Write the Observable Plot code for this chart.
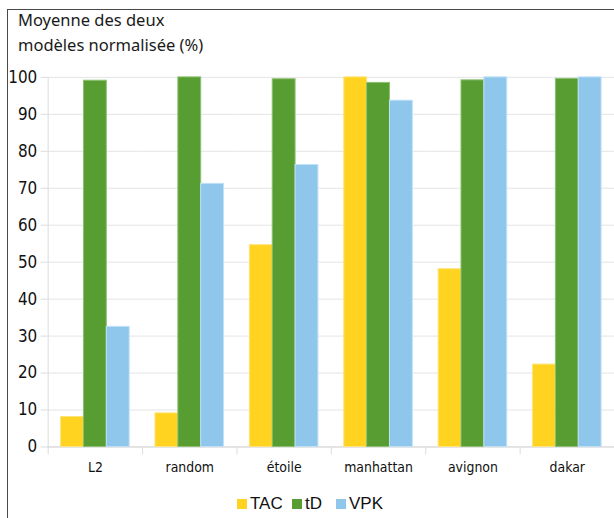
<!DOCTYPE html>
<html>
<head>
<meta charset="utf-8">
<script src="https://cdn.jsdelivr.net/npm/d3@7"></script>
<script src="https://cdn.jsdelivr.net/npm/@observablehq/plot@0.6"></script>
<style>
  html, body { margin: 0; padding: 0; background: #fff; }
  body { width: 614px; height: 518px; position: relative; overflow: hidden; }
  #frame { position: absolute; left: 7px; top: 9px; width: 700px; height: 600px; border: 1px solid #4a4a4a; box-sizing: border-box; }
  .title { position: absolute; left: 18px; font-family: "Noto Sans", sans-serif; font-size: 16.5px; color: #1a1a1a; white-space: nowrap; }
  #chart { position: absolute; left: 0; top: 60px; }
  #legend { position: absolute; top: 494px; left: 0; width: 614px; font-family: "Liberation Sans", Arial, sans-serif; font-size: 17px; color: #111; }
  .item { position: absolute; top: 0; display: flex; align-items: center; white-space: nowrap; }
  .sw { width: 10px; height: 10px; margin-right: 3px; }
</style>
</head>
<body>
<div id="frame"></div>
<div class="title" style="top:8px">Moyenne des deux</div>
<div class="title" style="top:33px">modèles normalisée (%)</div>
<div id="chart"></div>
<div id="legend"></div>
<script>
const categories = ["L2", "random", "étoile", "manhattan", "avignon", "dakar"];
const seriesNames = ["TAC", "tD", "VPK"];
const TAC = [8.1, 9.1, 54.6, 100, 48.1, 22.3];
const tD = [99.1, 100, 99.5, 98.5, 99.2, 99.6];
const VPK = [32.5, 71.2, 76.3, 93.7, 100, 100];
const yTicks = [0, 10, 20, 30, 40, 50, 60, 70, 80, 90, 100];
const colors = ["#FFD320", "#589D32", "#8EC6EC"];
const edges = ["#FFE37A", "#8CC070", "#C0E1F7"];

const values = { TAC, tD, VPK };
const data = [];
categories.forEach((c, i) => {
  seriesNames.forEach(s => data.push({ category: c, series: s, value: values[s][i] }));
});

const narrow = '"DejaVu Sans Condensed", "Liberation Sans Narrow", "Arial Narrow", "Liberation Sans", sans-serif';

const chart = Plot.plot({
  width: 618,
  height: 420,
  marginLeft: 48,
  marginRight: 0,
  marginTop: 17,
  marginBottom: 31,
  style: { fontFamily: narrow, color: "#111", background: "transparent", overflow: "visible" },
  fx: { domain: categories, paddingInner: 0, paddingOuter: 0, axis: null, label: null },
  x: { domain: seriesNames, paddingInner: 0, paddingOuter: 0.5, axis: null },
  y: { domain: [0, 100], axis: null, label: null },
  color: { domain: seriesNames, range: colors },
  marks: [
    Plot.gridY(yTicks, { stroke: "#e4e4e4", strokeOpacity: 1 }),
    Plot.ruleY([0], { stroke: "#d6d6d6" }),
    Plot.frame({ anchor: "left", stroke: "#dcdcdc", facetAnchor: "left" }),
    Plot.barY(data, {
      fx: "category", x: "series", y: "value",
      fill: "series",
      stroke: d => edges[seriesNames.indexOf(d.series)],
      strokeWidth: 1
    }),
    Plot.axisY(yTicks, {
      label: null, tickSize: 7, tickPadding: 4, stroke: "#dcdcdc",
      fontSize: 17, fill: "#111", tickFormat: d => String(d)
    }),
    Plot.axisFx({ anchor: "bottom", label: null, tickSize: 0, tickPadding: 15, fontSize: 14, fill: "#111" }),
    Plot.axisFx({ anchor: "bottom", label: null, tickSize: 8, dx: -47.5, text: null, stroke: "#dcdcdc" })
  ]
});
document.getElementById("chart").appendChild(chart);

const legend = document.getElementById("legend");
const lefts = [237, 292, 336];
seriesNames.forEach((s, i) => {
  const it = document.createElement("div");
  it.className = "item";
  it.style.left = lefts[i] + "px";
  const sw = document.createElement("span");
  sw.className = "sw";
  sw.style.background = colors[i];
  const t = document.createElement("span");
  t.textContent = s;
  it.appendChild(sw); it.appendChild(t);
  legend.appendChild(it);
});
</script>
</body>
</html>
